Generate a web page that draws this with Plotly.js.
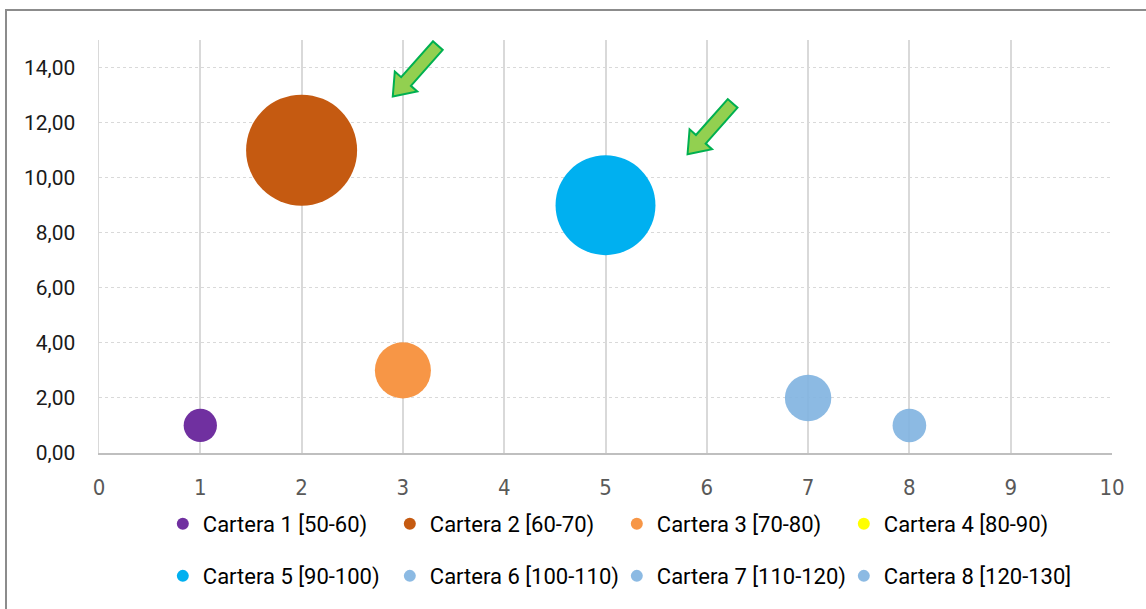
<!DOCTYPE html>
<html>
<head>
<meta charset="utf-8">
<script src="https://cdn.plot.ly/plotly-3.0.1.min.js"></script>
<style>
  html, body { margin: 0; padding: 0; background: #fff; }
  #wrap { position: relative; width: 1146px; height: 609px; overflow: hidden; }
  #chart { position: absolute; left: 0; top: 0; width: 1146px; height: 609px; }
  #frame { position: absolute; left: 5px; top: 9px; width: 1200px; height: 700px;
           border: 2px solid #8c8c8c; box-sizing: border-box; pointer-events: none; }
</style>
</head>
<body>
<div id="wrap">
  <div id="chart"></div>
  <div id="frame"></div>
</div>
<script>
// ---- data ----
var seriesNames = ['Cartera 1 [50-60)', 'Cartera 2 [60-70)', 'Cartera 3 [70-80)', 'Cartera 4 [80-90)',
                   'Cartera 5 [90-100)', 'Cartera 6 [100-110)', 'Cartera 7 [110-120)', 'Cartera 8 [120-130]'];
var seriesX    = [1, 2, 3, null, 5, null, 7, 8];
var seriesY    = [1, 11, 3, null, 9, null, 2, 1];
var bubbleSize = [9, 100, 25.5, null, 81, null, 17.5, 9.2];
var seriesColors = ['#7030a0', '#c55a11', '#f79646', '#ffff00', '#00b0f0', '#7fb2e0', '#7fb2e0', '#7fb2e0'];
var xTickVals = [0, 1, 2, 3, 4, 5, 6, 7, 8, 9, 10];
var yTickVals = [0, 2, 4, 6, 8, 10, 12, 14];
// arrow tips (data coordinates)
var arrowTipX = [2.9, 5.81];
var arrowTipY = [12.95, 10.85];

// ---- styling ----
var maxDiameterPx = 111;
var maxSize = Math.max.apply(null, bubbleSize.filter(function(v){ return v != null; }));
var sizeref = 2 * maxSize / (maxDiameterPx * maxDiameterPx);
var opac = [1, 1, 1, 1, 1, 0.9, 0.9, 0.9];

var traces = seriesNames.map(function(name, i) {
  return {
    type: 'scatter',
    mode: 'markers',
    name: name,
    x: [seriesX[i]],
    y: [seriesY[i]],
    legend: i < 4 ? 'legend' : 'legend2',
    marker: {
      color: seriesColors[i],
      // series without a point still need a non-zero size for their legend symbol
      size: [bubbleSize[i] == null ? 1 : bubbleSize[i]],
      sizemode: 'area',
      sizeref: sizeref,
      opacity: opac[i],
      line: { width: 0 }
    },
    hoverinfo: 'skip'
  };
});

// block arrow polygon in pixels relative to tip, pointing down-left
function arrowPath() {
  var len = 68, headLen = 20, headHalf = 15, shaftHalf = 6.5;
  var ux = 0.663, uy = 0.748;
  var nx = uy, ny = -ux;
  function p(a, b) { return (a * ux + b * nx).toFixed(2) + ',' + (a * uy + b * ny).toFixed(2); }
  return 'M' + p(0, 0) +
         ' L' + p(headLen, headHalf) +
         ' L' + p(headLen, shaftHalf) +
         ' L' + p(len, shaftHalf) +
         ' L' + p(len, -shaftHalf) +
         ' L' + p(headLen, -shaftHalf) +
         ' L' + p(headLen, -headHalf) + ' Z';
}
var shapes = arrowTipX.map(function(x, i) {
  return {
    type: 'path', xref: 'x', yref: 'y',
    xsizemode: 'pixel', ysizemode: 'pixel',
    xanchor: x, yanchor: arrowTipY[i],
    path: arrowPath(),
    fillcolor: '#92d050',
    line: { color: '#00b050', width: 2 },
    layer: 'above'
  };
});

var legendCommon = {
  orientation: 'h',
  xanchor: 'left',
  yanchor: 'middle',
  x: 0.063,
  entrywidth: 182,
  entrywidthmode: 'pixels',
  itemsizing: 'constant',
  font: { family: 'Roboto, sans-serif', size: 22, color: '#000' },
  bgcolor: 'rgba(0,0,0,0)',
  itemclick: false,
  itemdoubleclick: false
};

var layout = {
  width: 1146,
  height: 609,
  margin: { l: 99, r: 34, t: 40, b: 156 },
  paper_bgcolor: '#ffffff',
  plot_bgcolor: '#ffffff',
  separators: ', ',
  showlegend: true,
  xaxis: {
    range: [0, 10],
    tickvals: xTickVals,
    showgrid: true,
    gridcolor: '#d9d9d9',
    gridwidth: 2,
    zeroline: false,
    showline: true,
    linecolor: '#bfbfbf',
    linewidth: 1.5,
    ticks: '',
    ticklabelstandoff: 14,
    tickfont: { family: '"Liberation Sans Narrow", "DejaVu Sans Condensed", sans-serif', size: 22, color: '#595959' },
    fixedrange: true
  },
  yaxis: {
    range: [0, 15],
    tickvals: yTickVals,
    tickformat: '.2f',
    showgrid: true,
    gridcolor: '#d9d9d9',
    gridwidth: 1,
    griddash: 'dot',
    zeroline: false,
    showline: true,
    linecolor: '#d9d9d9',
    linewidth: 1.5,
    ticks: '',
    ticklabelstandoff: 18,
    tickfont: { family: 'Roboto, sans-serif', size: 21, color: '#1a1a1a' },
    fixedrange: true
  },
  legend: Object.assign({}, legendCommon, { y: -0.172 }),
  legend2: Object.assign({}, legendCommon, { y: -0.298 }),
  shapes: shapes
};

Plotly.newPlot('chart', traces, layout, { displayModeBar: false, staticPlot: true });
</script>
</body>
</html>
